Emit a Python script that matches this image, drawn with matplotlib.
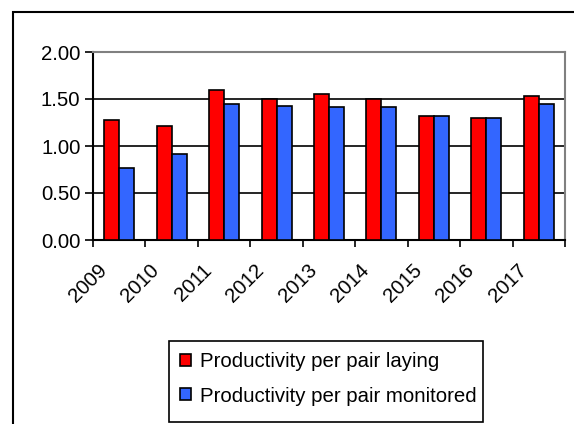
import numpy as np
import matplotlib
matplotlib.use('Agg')
import matplotlib.pyplot as plt
import matplotlib.transforms as mtransforms
from matplotlib.patches import Rectangle

plt.rcParams['font.family'] = ['Liberation Sans', 'DejaVu Sans']

years = ['2009', '2010', '2011', '2012', '2013', '2014', '2015', '2016', '2017']
laying = [1.28, 1.21, 1.60, 1.50, 1.55, 1.50, 1.32, 1.30, 1.53]
monitored = [0.77, 0.92, 1.45, 1.43, 1.42, 1.42, 1.32, 1.30, 1.45]

W, H = 574, 424
fig = plt.figure(figsize=(W / 100, H / 100), dpi=100)

# outer chart frame (only left and top edges fall inside the image)
fig.patches.append(Rectangle((12.5 / W, -0.1), 1.2, 1 - 11.5 / H + 0.1,
                             transform=fig.transFigure, fill=False,
                             edgecolor='black', linewidth=1.5))

ax = fig.add_axes([93 / W, 1 - 240 / H, (565 - 93) / W, (240 - 52) / H])

x = np.arange(len(years)) + 0.5
w = 0.285
ax.bar(x - w / 2, laying, width=w, color='#ff0000', edgecolor='black',
       linewidth=1.2, label='Productivity per pair laying', zorder=3)
ax.bar(x + w / 2, monitored, width=w, color='#3366ff', edgecolor='black',
       linewidth=1.2, label='Productivity per pair monitored', zorder=3)

ax.set_xlim(0, len(years))
ax.set_ylim(0, 2.0)
ax.set_yticks([0, 0.5, 1.0, 1.5, 2.0])
ax.set_yticklabels(['%.2f' % v for v in [0, 0.5, 1.0, 1.5, 2.0]], fontsize=14.7)
for v in [0.5, 1.0, 1.5]:
    ax.axhline(v, color='black', linewidth=1.2, zorder=1)

ax.set_xticks(np.arange(len(years) + 1))
ax.set_xticklabels([])
ax.set_xticks(x, minor=True)
ax.set_xticklabels(years, minor=True, rotation=45, ha='right',
                   rotation_mode='anchor', fontsize=14.7)
ax.tick_params(axis='x', which='minor', length=0, pad=4)
ax.tick_params(axis='x', which='major', length=5, width=1.2, direction='out')
ax.tick_params(axis='y', length=6, width=1.2, direction='out', pad=3)
shift = mtransforms.ScaledTranslation(-22 / 100, -15 / 100, fig.dpi_scale_trans)
for lab in ax.get_xticklabels(minor=True):
    lab.set_transform(lab.get_transform() + shift)

for s in ['left', 'bottom']:
    ax.spines[s].set_color('black')
    ax.spines[s].set_linewidth(1.5)
for s in ['top', 'right']:
    ax.spines[s].set_color('#808080')
    ax.spines[s].set_linewidth(1.5)

# legend box drawn separately so its padding can be uneven
fig.patches.append(Rectangle((169 / W, 1 - 422 / H), (483 - 169) / W, (422 - 341) / H,
                             transform=fig.transFigure, fill=False,
                             edgecolor='black', linewidth=1.2))
leg = fig.legend(loc='upper left', bbox_to_anchor=(169 / W, 1 - 341 / H),
                 fontsize=14.7, frameon=False, borderpad=0.55,
                 handlelength=0.55, handleheight=0.55, handletextpad=0.4,
                 labelspacing=0.75, borderaxespad=0)

fig.savefig('out.png', dpi=100)
